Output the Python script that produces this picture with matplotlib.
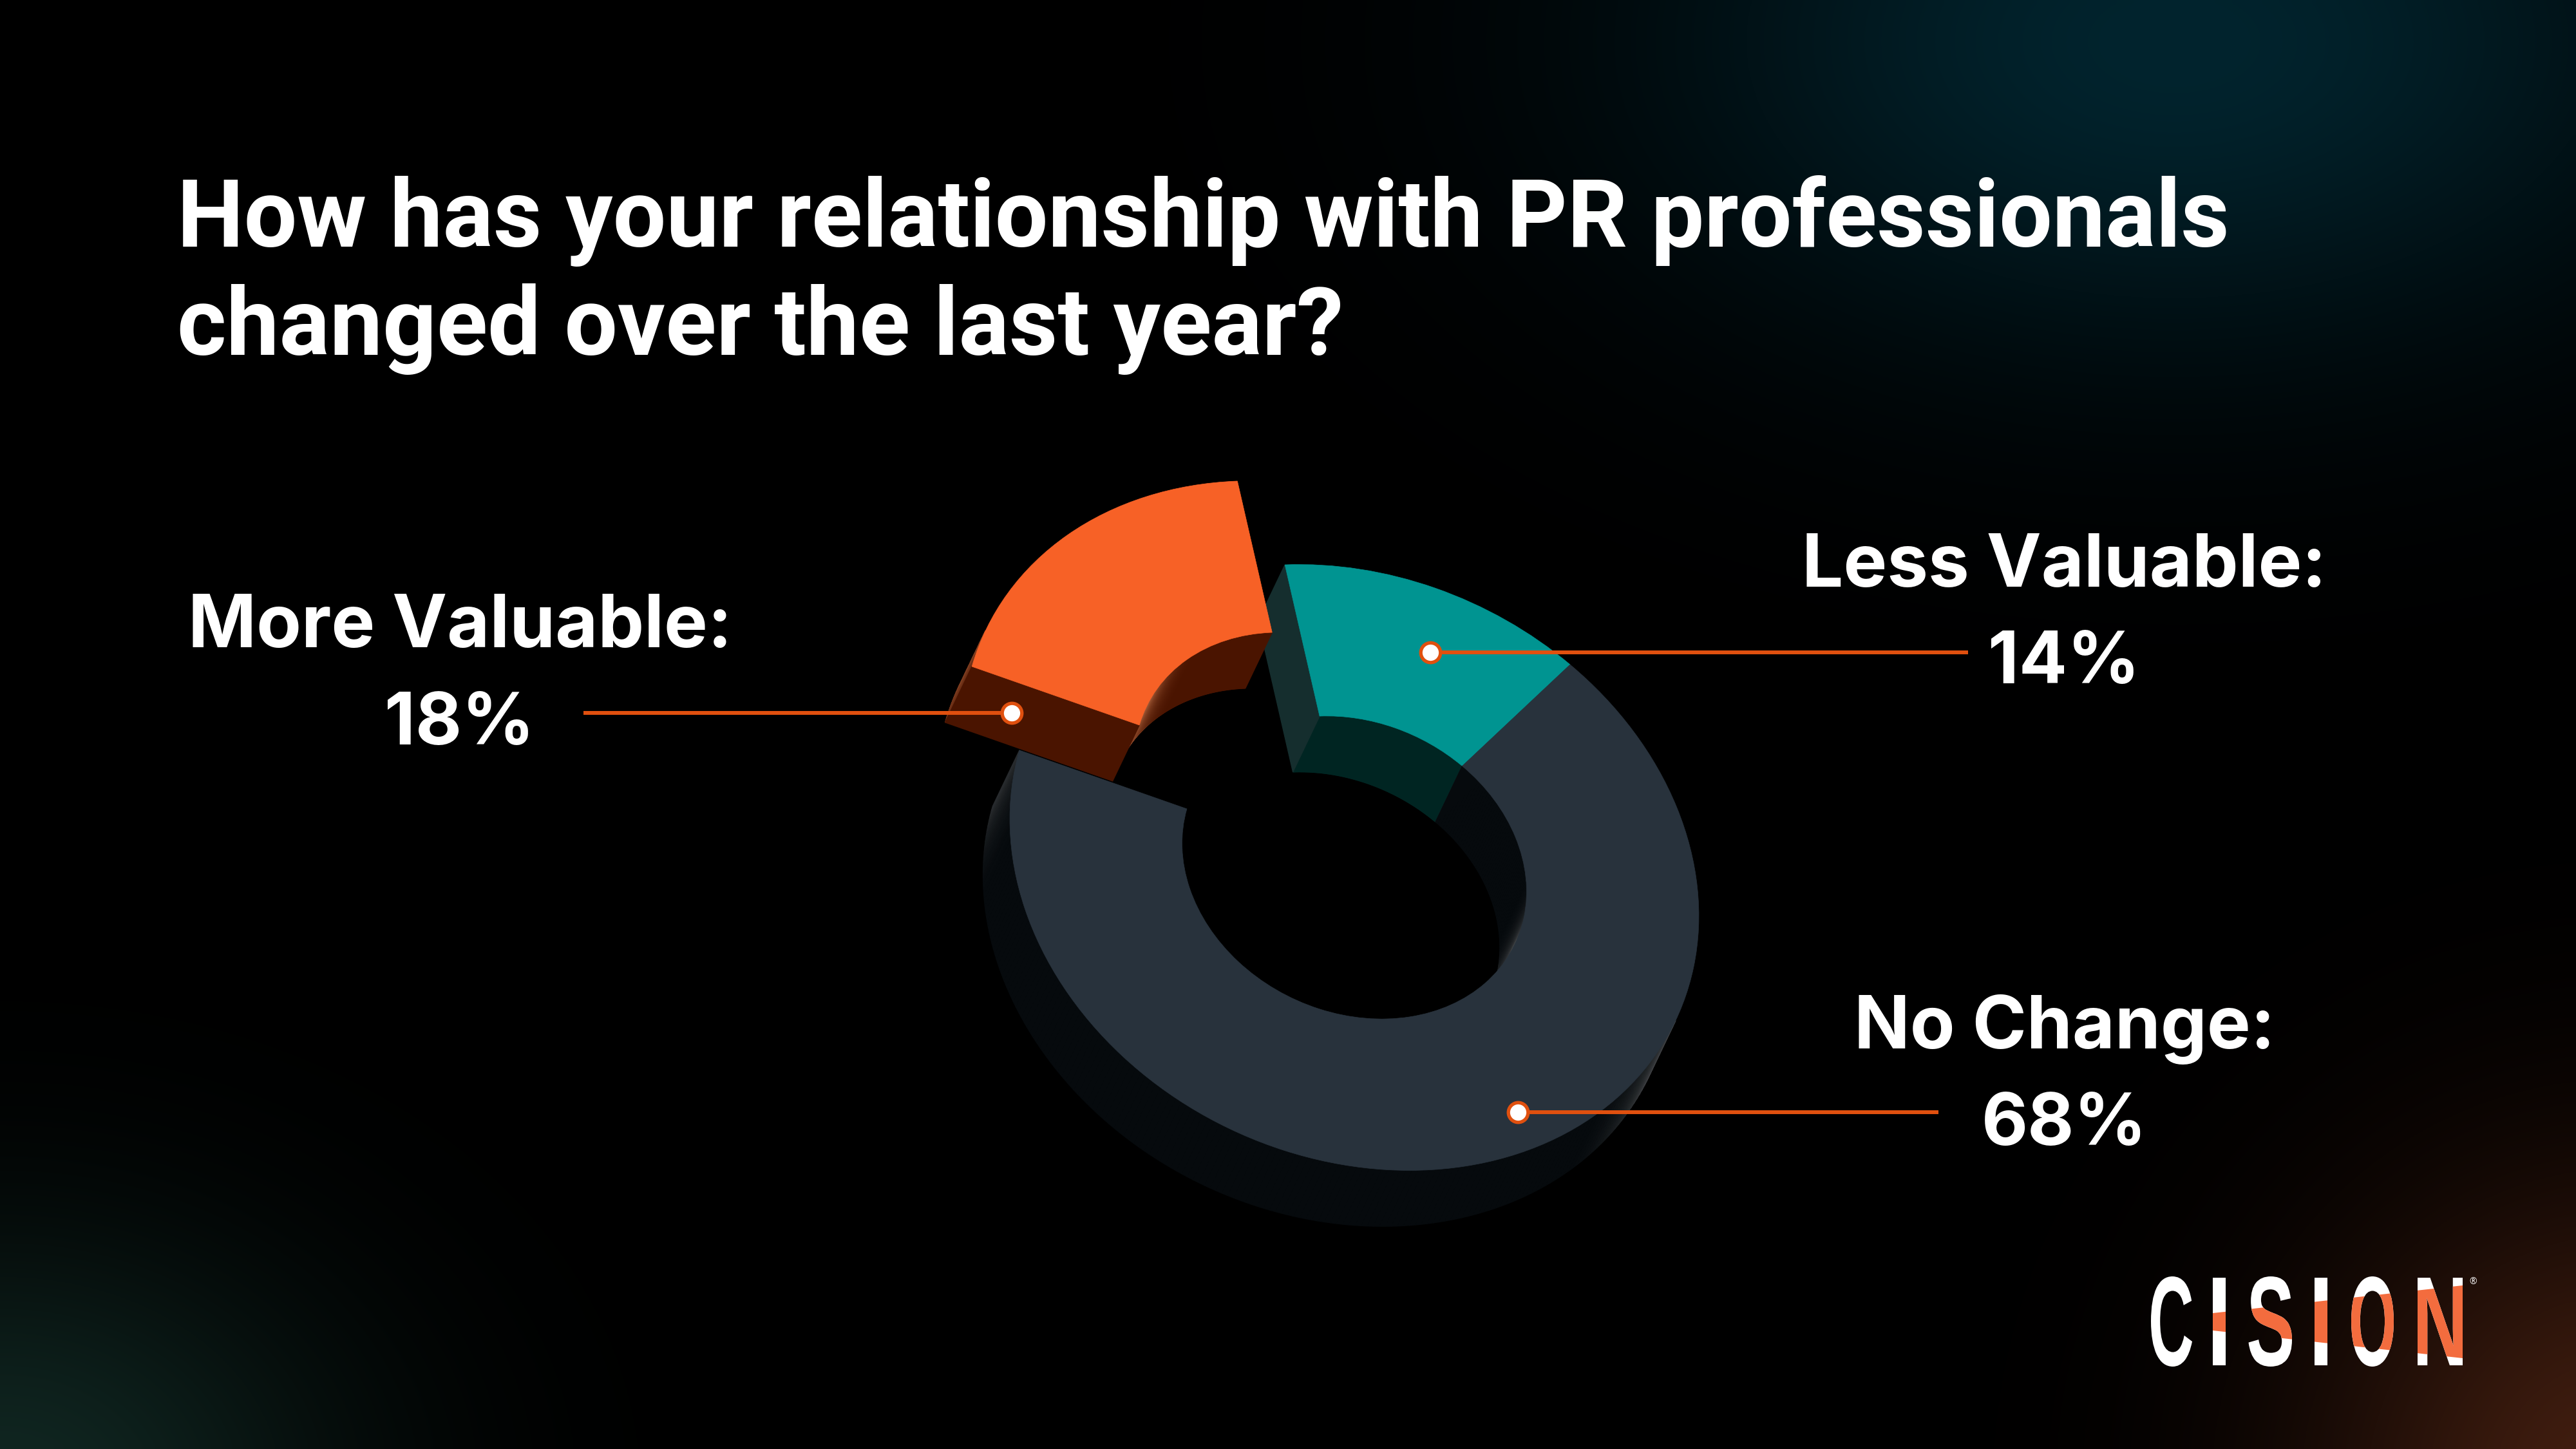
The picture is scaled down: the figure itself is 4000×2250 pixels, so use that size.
import numpy as np
import matplotlib
matplotlib.use("Agg")
import matplotlib.pyplot as plt
from matplotlib.patches import Wedge, Polygon
from matplotlib.collections import PolyCollection
from matplotlib.transforms import Affine2D, IdentityTransform
from matplotlib.path import Path
from matplotlib.patheffects import AbstractPathEffect
from matplotlib.colors import to_rgb

# ---- data
title_lines = ["How has your relationship with PR professionals", "changed over the last year?"]
categories = ["Less Valuable", "No Change", "More Valuable"]
values = [14, 68, 18]
brand = "CISION"

# ---- geometry / style
W, H = 4000, 2250
C0 = np.array([2103.0, 1347.0])
VA = np.array([-107.8, -470.0])
VB = np.array([524.0, -20.0])
DEPTH = np.array([-41.5, 86.8])
OFFSETS = {"Less Valuable": (0, 0), "No Change": (0, 0), "More Valuable": (-73.8, -130)}
TOPS = {"Less Valuable": "#009491", "No Change": "#28323C", "More Valuable": "#F76126"}
WALLS = {"Less Valuable": "#002522", "No Change": "#060A0D", "More Valuable": "#4A1400"}
ENDS = {"Less Valuable": "#152E2E", "No Change": "#060A0D", "More Valuable": "#4A1400"}
GLOW = {"Less Valuable": "#1c3a3a", "No Change": "#484a4c", "More Valuable": "#D88458"}
RIN = 0.5
LINE = "#E0500F"

plt.rcParams["font.family"] = ["Open Sans", "DejaVu Sans"]
fig = plt.figure(figsize=(40, 22.5), dpi=100, facecolor="black")
ax = fig.add_axes([0, 0, 1, 1])
ax.set_xlim(0, W)
ax.set_ylim(H, 0)
ax.axis("off")

# background glows
yy, xx = np.mgrid[0:H:225j, 0:W:400j]
def glow(cx, cy, rx, ry, col):
    g = np.exp(-(((xx - cx) / rx) ** 2 + ((yy - cy) / ry) ** 2))
    return g[..., None] * np.array(col) / 255.0
bg = glow(3380, 60, 800, 480, (2, 36, 46)) + glow(0, 2320, 520, 400, (16, 38, 33)) + glow(4080, 2320, 480, 480, (66, 30, 16))
ax.imshow(np.clip(bg, 0, 1), extent=(0, W, H, 0), aspect="auto", zorder=-10, interpolation="bilinear")
ax.set_xlim(0, W)
ax.set_ylim(H, 0)


def point(phi, r, off):
    return C0 + np.asarray(off) + r * (np.cos(phi)[..., None] * VA + np.sin(phi)[..., None] * VB)


def wall(phi1, phi2, r, sign, name, off, z):
    phis = np.linspace(phi1, phi2, 241)
    p = point(phis, r, off)
    d_hat = DEPTH / np.linalg.norm(DEPTH)
    polys, cols = [], []
    base, edge = np.array(to_rgb(WALLS[name])), np.array(to_rgb(GLOW[name]))
    for i in range(len(phis) - 1):
        m = (phis[i] + phis[i + 1]) / 2
        t = -np.sin(m) * VA + np.cos(m) * VB
        n = np.array([t[1], -t[0]])
        n /= np.linalg.norm(n)
        rad = np.cos(m) * VA + np.sin(m) * VB
        if n @ rad < 0:
            n = -n
        n = n * sign
        s = n @ d_hat
        if s <= 0:
            continue
        width = 0.5 if name == "No Change" else 0.55
        mix = (1 - min(s / width, 1)) ** 1.6
        if name == "Less Valuable":
            mix = 0
        if name == "More Valuable" and sign > 0:
            mix *= 0.35
        polys.append([p[i], p[i + 1], p[i + 1] + DEPTH, p[i] + DEPTH])
        cols.append(base * (1 - mix) + edge * mix)
    if polys:
        ax.add_collection(PolyCollection(polys, facecolors=cols, edgecolors=cols, linewidths=1.0, zorder=z))


fr = np.array(values, float) / sum(values)
edges = np.concatenate([[0], np.cumsum(fr)]) * 2 * np.pi
for k, name in enumerate(categories):
    z = 2 + k * 2
    off = OFFSETS[name]
    p1, p2 = edges[k], edges[k + 1]
    wall(p1, p2, 1.0, 1, name, off, z)
    wall(p1, p2, RIN, -1, name, off, z)
    # radial end faces
    for phi in (p1, p2):
        a = point(np.array(phi), RIN, off)
        b = point(np.array(phi), 1.0, off)
        mid = (p1 + p2) / 2
        v = b - a
        n = np.array([v[1], -v[0]])
        inside = point(np.array(mid), 0.75, off) - (a + b) / 2
        if n @ inside > 0:
            n = -n
        if n @ DEPTH > 0:
            ax.add_patch(Polygon([a, b, b + DEPTH, a + DEPTH], closed=True, fc=ENDS[name], ec=ENDS[name], lw=1, zorder=z))
    mat = Affine2D.from_values(VA[0], VA[1], VB[0], VB[1], C0[0] + off[0], C0[1] + off[1])
    ax.add_patch(Wedge((0, 0), 1.0, np.degrees(p1), np.degrees(p2), width=1 - RIN, fc=TOPS[name],
                       ec=TOPS[name], lw=0.5, transform=mat + ax.transData, zorder=z + 1))

# title
for s, y in zip(title_lines, (383, 551)):
    ax.text(275, y, s, color="white", fontsize=105.5, fontweight="bold", ha="left", va="baseline",
            family=["Roboto", "DejaVu Sans"])

# labels
lab_pos = {"More Valuable": (714, 1005, 1156), "Less Valuable": (3205, 911, 1061), "No Change": (3206, 1628, 1778)}
lead = {"More Valuable": (906, 1571, 1107), "Less Valuable": (3056, 2221, 1013), "No Change": (3010, 2357, 1727)}
for name, v in zip(categories, values):
    x, y1, y2 = lab_pos[name]
    ax.text(x, y1, name + ":", color="white", fontsize=82, fontweight="bold", ha="center", va="baseline",
            family=["Inter", "DejaVu Sans"])
    ax.text(x, y2, f"{v}%", color="white", fontsize=80, fontweight="bold", ha="center", va="baseline",
            family=["Inter", "DejaVu Sans"])
    x0, x1, y = lead[name]
    ax.plot([x0, x1], [y, y], color=LINE, lw=4.3, zorder=20, solid_capstyle="butt")
    ax.plot([x1], [y], marker="o", ms=22, mfc="white", mec=LINE, mew=3.8, zorder=21)


# logo: one text, each glyph fitted to the wordmark's narrow proportions
class Fit(AbstractPathEffect):
    def __init__(self, spans, top, bottom):
        self.spans, self.top, self.bottom = spans, top, bottom

    def draw_path(self, renderer, gc, tpath, affine, rgbFace=None):
        v = affine.transform(tpath.vertices)
        polys = Path(v, tpath.codes).to_polygons(closed_only=False)
        rng = sorted((p[:, 0].min(), p[:, 0].max()) for p in polys if len(p))
        merged = []
        for a, b in rng:
            if merged and a <= merged[-1][1]:
                merged[-1][1] = max(merged[-1][1], b)
            else:
                merged.append([a, b])
        xp = np.ravel(merged)
        tr = ax.transData
        fx = np.array([tr.transform((x, 0))[0] for s in self.spans for x in s])
        y_t, y_b = tr.transform((0, self.top))[1], tr.transform((0, self.bottom))[1]
        out = v.copy()
        out[:, 0] = np.interp(v[:, 0], xp, fx)
        ymin, ymax = v[:, 1].min(), v[:, 1].max()
        out[:, 1] = y_b + (v[:, 1] - ymin) / (ymax - ymin) * (y_t - y_b)
        renderer.draw_path(gc, Path(out, tpath.codes), IdentityTransform(), rgbFace)


spans = [(3340, 3404), (3436, 3456), (3491.5, 3559), (3594, 3614), (3651, 3717), (3754, 3824)]
fx = Fit(spans, 1982, 2122)
ax.text(3340, 2122, brand, color="white", fontsize=100, fontweight="bold", family=["Liberation Sans"],
        path_effects=[fx], zorder=30)
band = Polygon([(3436, 2039), (3824, 1996), (3824, 2109), (3436, 2066)], closed=True,
               transform=ax.transData, fc="none", ec="none")
ax.add_patch(band)
t = ax.text(3340, 2122, brand, color="#F36C3E", fontsize=100, fontweight="bold", family=["Liberation Sans"],
            path_effects=[fx], zorder=31, clip_on=True)
t.set_clip_path(band)
ax.text(3840, 1991, "®", color="white", fontsize=10, ha="center", va="center", zorder=31)

fig.savefig("out.png", dpi=100, facecolor="black")
